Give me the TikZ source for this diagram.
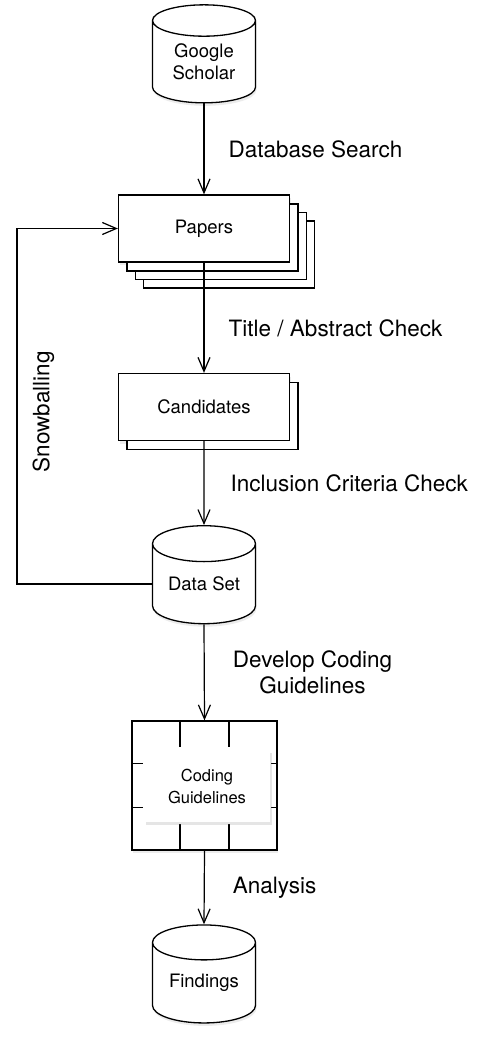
\documentclass[tikz,border=0pt]{standalone}
\usepackage{fontspec}
\setmainfont{TeX Gyre Heros}
\usetikzlibrary{shapes.geometric,shadows,arrows.meta,calc}

\tikzset{
  soft/.style={drop shadow={opacity=0.15, shadow xshift=1pt, shadow yshift=-3pt}},
  sheet/.style 2 args={copy shadow={shadow xshift=#1, shadow yshift=-#2, draw=black, line width=1.3pt, fill=white}},
  box/.style={draw, fill=white, line width=1.3pt, minimum width=171pt, minimum height=67pt, inner sep=0pt, font=\fontsize{18.5}{22}\selectfont},
  db/.style={cylinder, shape border rotate=90, aspect=0.5, draw, fill=white, line width=1.3pt, minimum width=103pt, minimum height=98pt, align=center, inner sep=0pt, font=\fontsize{18.5}{22}\selectfont, soft},
  book/.style={draw, fill=white, line width=1.3pt, minimum width=145pt, minimum height=129pt, soft},
  page/.style={fill=white, minimum width=126pt, minimum height=72pt, inner sep=0pt, align=center, font=\fontsize{16.5}{22}\selectfont, drop shadow={opacity=0.2, shadow xshift=1.5pt, shadow yshift=-2.5pt}},
  grid/.style={line width=1.3pt},
  flow/.style={-{Straight Barb[length=14pt,width=12pt]}, line width=1.2pt},
  lbl/.style={anchor=west, inner sep=0pt, xshift=24pt, font=\fontsize{22.5}{26}\selectfont},
}

\begin{document}
\begin{tikzpicture}[x=1pt,y=-1pt]
\useasboundingbox (0,0) rectangle (477,1038);

\node[db] (scholar) at (204,62) {Google\\Scholar};
\node[box, soft, sheet={25pt}{26pt}, sheet={16.7pt}{17.5pt}, sheet={8.4pt}{9pt}] (papers) at (204,228.5) {Papers};
\node[box, soft, sheet={8.4pt}{9pt}] (candidates) at (204,407) {Candidates};
\node[db] (dataset) at (204,584) {Data Set};

\node[book] (codebook) at (204.5,785.5) {};
\foreach \f in {1/3,2/3} {
  \draw[grid] ($(codebook.north west)!\f!(codebook.north east)$) -- ++(0,27);
  \draw[grid] ($(codebook.south west)!\f!(codebook.south east)$) -- ++(0,-27);
  \draw[grid] ($(codebook.north west)!\f!(codebook.south west)$) -- ++(12,0);
  \draw[grid] ($(codebook.north east)!\f!(codebook.south east)$) -- ++(-7,0);
}
\node[page] (guide) at (207,786) {Coding\\Guidelines};

\node[db] (findings) at (204,983) {Findings};

\draw[flow] (scholar.south) -- node[lbl] {Database Search} (papers.north);
\draw[flow] (papers.south) -- node[lbl, pos=0.6] {Title / Abstract Check} (candidates.north);
\draw[flow] (candidates.south) -- node[lbl, xshift=2pt] {Inclusion Criteria Check} (dataset.north);
\draw[flow] (dataset.south) -- node[lbl, xshift=4pt, align=center] {Develop Coding\\Guidelines} (codebook.north);
\draw[flow] (codebook.south) -- node[lbl, xshift=4pt] {Analysis} (findings.north);

\coordinate (turn) at (17,0);
\draw[flow] (dataset.west) -- (dataset.west -| turn)
  -- node[sloped, below=15pt, pos=0.484, inner sep=0pt, font=\fontsize{22.5}{26}\selectfont] {Snowballing} (papers.west -| turn)
  -- (papers.west);
\end{tikzpicture}
\end{document}
